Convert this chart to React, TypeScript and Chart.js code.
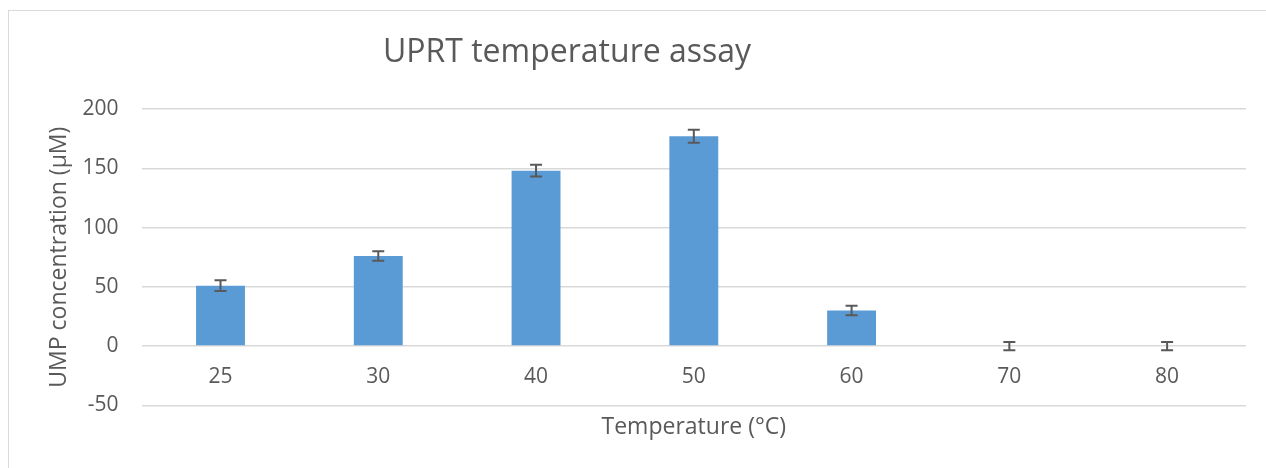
import React, { useEffect, useRef } from "react";
import { Chart, registerables } from "chart.js";

Chart.register(...registerables);

const TITLE = "UPRT temperature assay";
const X_TITLE = "Temperature (°C)";
const Y_TITLE = "UMP concentration (µM)";
const categories = ["25", "30", "40", "50", "60", "70", "80"];
const values = [51, 76, 148, 177, 30, 0, 0];
const errors = [4.5, 4, 5, 5.5, 4, 3.5, 3.5];
const yMin = -50;
const yMax = 200;
const yStep = 50;

const TEXT = "#595959";
const GRID = "#D9D9D9";
const BAR = "#5B9BD5";
const FONT = '"Open Sans", sans-serif';

const errorBarPlugin = {
  id: "errorBars",
  afterDatasetsDraw(chart: any) {
    const ctx = chart.ctx;
    const meta = chart.getDatasetMeta(0);
    const y = chart.scales.y;
    ctx.save();
    ctx.strokeStyle = TEXT;
    ctx.lineWidth = 2;
    meta.data.forEach((bar: any, i: number) => {
      const v = values[i];
      const e = errors[i];
      const x = bar.x;
      const top = y.getPixelForValue(v + e);
      const bot = y.getPixelForValue(v - e);
      ctx.beginPath();
      ctx.moveTo(x, top);
      ctx.lineTo(x, bot);
      ctx.moveTo(x - 6, top);
      ctx.lineTo(x + 6, top);
      ctx.moveTo(x - 6, bot);
      ctx.lineTo(x + 6, bot);
      ctx.stroke();
    });
    ctx.restore();
  },
};

// Category labels sit just below the value-0 axis line (Excel style)
const categoryLabelPlugin = {
  id: "categoryLabels",
  afterDraw(chart: any) {
    const ctx = chart.ctx;
    const x = chart.scales.x;
    const y = chart.scales.y;
    const base = y.getPixelForValue(0);
    ctx.save();
    ctx.font = `21px ${FONT}`;
    ctx.fillStyle = TEXT;
    ctx.textAlign = "center";
    ctx.textBaseline = "middle";
    categories.forEach((c, i) => {
      ctx.fillText(c, x.getPixelForTick(i), base + 31);
    });
    ctx.restore();
  },
};

const titlePlugin = {
  id: "offsetTitle",
  afterDraw(chart: any) {
    const ctx = chart.ctx;
    ctx.save();
    ctx.font = `32px ${FONT}`;
    ctx.fillStyle = TEXT;
    ctx.textAlign = "center";
    ctx.textBaseline = "alphabetic";
    ctx.fillText(TITLE, 558, 51);
    ctx.restore();
  },
};

export default function App() {
  const ref = useRef<HTMLCanvasElement | null>(null);

  useEffect(() => {
    if (!ref.current) return;
    const chart = new Chart(ref.current, {
      type: "bar",
      data: {
        labels: categories,
        datasets: [
          {
            data: values,
            backgroundColor: BAR,
            borderWidth: 0,
            barPercentage: 0.31,
            categoryPercentage: 1,
          },
        ],
      },
      options: {
        responsive: false,
        animation: false,
        devicePixelRatio: 1,
        layout: { padding: { top: 98, left: 33, right: 20, bottom: 23 } },
        plugins: {
          legend: { display: false },
          title: { display: false },
          tooltip: { enabled: false },
        },
        scales: {
          x: {
            grid: { display: false, drawTicks: false },
            border: { display: false },
            ticks: { display: false },
            title: {
              display: true,
              text: X_TITLE,
              color: TEXT,
              font: { family: FONT, size: 23 },
              padding: { top: 8, bottom: 4 },
            },
          },
          y: {
            min: yMin,
            max: yMax,
            grid: { color: GRID, lineWidth: 1.5, drawTicks: false },
            border: { display: false },
            ticks: {
              stepSize: yStep,
              color: TEXT,
              font: { family: FONT, size: 21 },
              padding: 23,
            },
            title: {
              display: true,
              text: Y_TITLE,
              color: TEXT,
              font: { family: FONT, size: 23 },
              padding: { top: 4, bottom: -14 },
            },
          },
        },
      },
      plugins: [errorBarPlugin, categoryLabelPlugin, titlePlugin],
    });
    return () => chart.destroy();
  }, []);

  return (
    <div
      style={{
        position: "absolute",
        left: 8,
        top: 10,
        width: 1258,
        height: 458,
        borderTop: `1px solid ${GRID}`,
        borderLeft: `1px solid ${GRID}`,
        boxSizing: "border-box",
        background: "#fff",
      }}
    >
      <canvas ref={ref} width={1257} height={457} style={{ display: "block" }} />
    </div>
  );
}
